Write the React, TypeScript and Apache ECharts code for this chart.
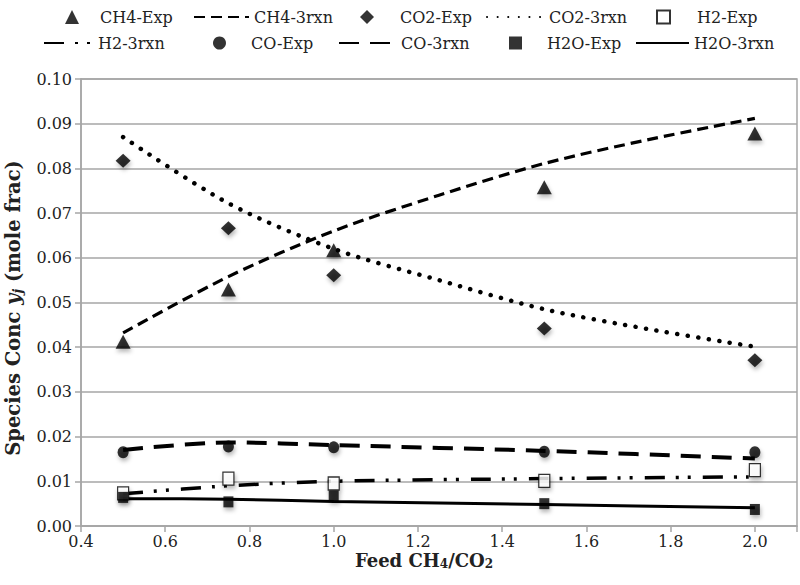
import React, { useEffect, useRef } from "react";
import * as echarts from "echarts";

// Feed CH4/CO2 ratios
const feedRatio = [0.5, 0.75, 1.0, 1.5, 2.0];
const modelRatio = [0.5, 0.75, 1.0, 1.25, 1.5, 1.75, 2.0];

// Species concentrations (mole fraction)
const ch4Exp = [0.0412, 0.0529, 0.0617, 0.0758, 0.0878];
const ch4Model = [0.0432, 0.0558, 0.066, 0.074, 0.0811, 0.0865, 0.0912];
const co2Exp = [0.0817, 0.0666, 0.0561, 0.0442, 0.0371];
const co2Model = [0.087, 0.0722, 0.062, 0.055, 0.0485, 0.044, 0.0401];
const h2Exp = [0.0073, 0.0106, 0.0095, 0.0101, 0.0125];
const h2Model = [0.0072, 0.009, 0.01, 0.0106, 0.011];
const coExp = [0.0165, 0.0178, 0.0176, 0.0166, 0.0165];
const coModel = [0.017, 0.0187, 0.0181, 0.0168, 0.0151];
const h2oExp = [0.0064, 0.0054, 0.0067, 0.005, 0.0037];
const h2oModel = [0.0061, 0.006, 0.0055, 0.0048, 0.0041];

// Tick settings
const xTicks = { min: 0.4, max: 2.1, interval: 0.2 };
const yTicks = { min: 0, max: 0.1, interval: 0.01 };

const FONT = "DejaVu Serif";
const GRID = "#a6a6a6";
const INK = "#000";

export default function App() {
  const ref = useRef<HTMLDivElement>(null);

  useEffect(() => {
    if (!ref.current) return;
    const chart = echarts.init(ref.current, null, { renderer: "svg" });
    const pair = (xs: number[], ys: number[]) => xs.map((x, i) => [x, ys[i]]);
    const shadow = {
      shadowColor: "rgba(0,0,0,0.35)",
      shadowBlur: 4,
      shadowOffsetX: 1,
      shadowOffsetY: 3,
    };

    const series: any[] = [
      {
        name: "CH4-3rxn",
        type: "line",
        data: pair(modelRatio, ch4Model),
        smooth: 0.3,
        symbol: "none",
        lineStyle: { color: INK, width: 3.2, type: [11, 6] },
        z: 2,
      },
      {
        name: "CO2-3rxn",
        type: "line",
        data: pair(modelRatio, co2Model),
        smooth: 0.3,
        symbol: "none",
        lineStyle: { color: INK, width: 4.5, type: [0.1, 10.5], cap: "round" },
        z: 2,
      },
      {
        name: "H2-3rxn",
        type: "line",
        data: pair(feedRatio, h2Model),
        smooth: 0.3,
        symbol: "none",
        lineStyle: { color: INK, width: 3.5, type: [20, 11, 3, 9, 3, 12] },
        z: 2,
      },
      {
        name: "CO-3rxn",
        type: "line",
        data: pair(feedRatio, coModel),
        smooth: 0.3,
        symbol: "none",
        lineStyle: { color: INK, width: 4, type: [20, 11] },
        z: 2,
      },
      {
        name: "H2O-3rxn",
        type: "line",
        data: pair(feedRatio, h2oModel),
        smooth: 0.3,
        symbol: "none",
        lineStyle: { color: INK, width: 3, type: "solid" },
        z: 2,
      },
      {
        name: "CH4-Exp",
        type: "scatter",
        data: pair(feedRatio, ch4Exp),
        symbol: "triangle",
        symbolSize: [15, 14],
        itemStyle: { color: INK, ...shadow },
        z: 3,
      },
      {
        name: "CO2-Exp",
        type: "scatter",
        data: pair(feedRatio, co2Exp),
        symbol: "diamond",
        symbolSize: [15, 14],
        itemStyle: { color: INK, ...shadow },
        z: 3,
      },
      {
        name: "H2-Exp",
        type: "scatter",
        data: pair(feedRatio, h2Exp),
        symbol: "rect",
        symbolSize: [11, 13],
        itemStyle: { color: "#fff", borderColor: INK, borderWidth: 1.3, ...shadow },
        z: 3,
      },
      {
        name: "CO-Exp",
        type: "scatter",
        data: pair(feedRatio, coExp),
        symbol: "circle",
        symbolSize: [11, 12],
        itemStyle: { color: INK, ...shadow },
        z: 3,
      },
      {
        name: "H2O-Exp",
        type: "scatter",
        data: pair(feedRatio, h2oExp),
        symbol: "rect",
        symbolSize: [10, 11],
        itemStyle: { color: INK, ...shadow },
        z: 3,
      },
    ];

    // legend layout: markers placed by centre, lines by start and length
    const legendItems = [
      { name: "CH4-Exp", left: 65, top: 9, w: 14, h: 14, pad: 16, line: false },
      { name: "CH4-3rxn", left: 193, top: 9, w: 55, h: 14, pad: 0, line: true },
      { name: "CO2-Exp", left: 360, top: 9, w: 14, h: 14, pad: 21, line: false },
      { name: "CO2-3rxn", left: 486, top: 9, w: 57, h: 14, pad: 0, line: true },
      { name: "H2-Exp", left: 656, top: 9, w: 13, h: 13, pad: 22, line: false },
      { name: "H2-3rxn", left: 43, top: 35, w: 49, h: 14, pad: 0, line: true },
      { name: "CO-Exp", left: 213, top: 35, w: 13, h: 13, pad: 20, line: false },
      { name: "CO-3rxn", left: 338, top: 35, w: 57, h: 14, pad: 0, line: true },
      { name: "H2O-Exp", left: 509, top: 35, w: 13, h: 13, pad: 20, line: false },
      { name: "H2O-3rxn", left: 635, top: 35, w: 53, h: 14, pad: 0, line: true },
    ];

    const legend = legendItems.map((l) => ({
      data: [l.name],
      left: l.left,
      top: l.top,
      padding: 0,
      itemWidth: l.w,
      itemHeight: l.h,
      selectedMode: false,
      textStyle: {
        fontFamily: FONT,
        fontSize: 16,
        color: "#222",
        padding: [0, 0, 0, l.pad],
      },
      ...(l.line ? { itemStyle: { opacity: 0 } } : {}),
    }));

    const axisLineStyle = { color: GRID, width: 1.5 };

    chart.setOption({
      animation: false,
      backgroundColor: "#fff",
      grid: {
        left: 81,
        right: 3,
        top: 79,
        bottom: 59,
        show: true,
        borderColor: GRID,
        borderWidth: 1.5,
        containLabel: false,
      },
      legend,
      xAxis: {
        type: "value",
        min: xTicks.min,
        max: xTicks.max,
        interval: xTicks.interval,
        axisLine: { show: true, lineStyle: axisLineStyle },
        axisTick: { show: true, length: 6, lineStyle: axisLineStyle },
        splitLine: { show: false },
        axisLabel: {
          fontFamily: FONT,
          fontSize: 16,
          color: "#222",
          margin: 7,
          formatter: (v: number) => (v > 2.05 ? "" : v.toFixed(1)),
        },
      },
      yAxis: {
        type: "value",
        min: yTicks.min,
        max: yTicks.max,
        interval: yTicks.interval,
        axisLine: { show: true, lineStyle: axisLineStyle },
        axisTick: { show: true, length: 6, lineStyle: axisLineStyle },
        splitLine: { show: true, lineStyle: { color: GRID, width: 1.5 } },
        axisLabel: {
          fontFamily: FONT,
          fontSize: 16,
          color: "#222",
          margin: 9,
          formatter: (v: number) => v.toFixed(2),
        },
      },
      graphic: [
        {
          type: "text",
          x: 424,
          y: 560,
          style: {
            text: "{b|Feed CH}{s|4}{b|/CO}{s|2}",
            align: "center",
            verticalAlign: "middle",
            fill: "#222",
            rich: {
              b: { fontFamily: FONT, fontSize: 18, fontWeight: "bold", fill: "#222" },
              s: {
                fontFamily: FONT,
                fontSize: 12,
                fontWeight: "bold",
                fill: "#222",
                padding: [8, 0, 0, 0],
              },
            },
          },
        },
        {
          type: "text",
          x: 13,
          y: 308,
          rotation: Math.PI / 2,
          style: {
            text: "{b|Species Conc }{i|y}{is|j}{b| (mole frac)}",
            align: "center",
            verticalAlign: "middle",
            fill: "#222",
            rich: {
              b: { fontFamily: FONT, fontSize: 19.5, fontWeight: "bold", fill: "#222" },
              i: {
                fontFamily: FONT,
                fontSize: 19.5,
                fontWeight: "bold",
                fontStyle: "italic",
                fill: "#222",
              },
              is: {
                fontFamily: FONT,
                fontSize: 13,
                fontWeight: "bold",
                fontStyle: "italic",
                fill: "#222",
                padding: [9, 0, 0, 0],
              },
            },
          },
        },
      ],
      series,
    });

    return () => chart.dispose();
  }, []);

  return (
    <div
      ref={ref}
      style={{ position: "fixed", left: 0, top: 0, width: 800, height: 585 }}
    />
  );
}
